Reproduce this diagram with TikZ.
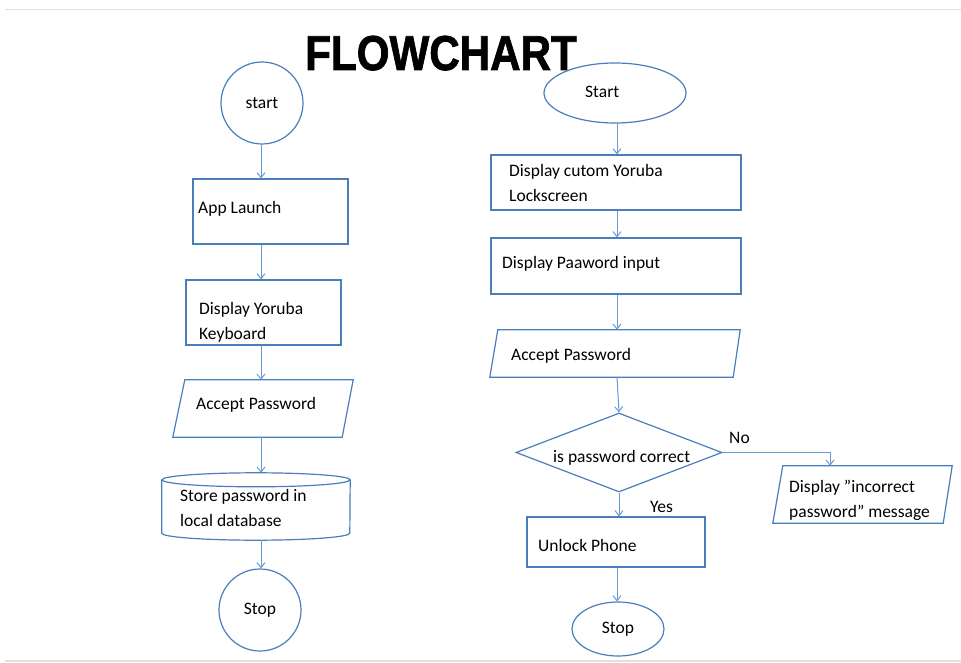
\documentclass[tikz,border=0pt]{standalone}
\usepackage{fontspec}
\setmainfont{Carlito}
\newfontfamily\titlefont[BoldFeatures={FakeBold=1.6}]{Liberation Sans}
\usetikzlibrary{positioning,shapes.geometric,arrows.meta}
\definecolor{shapeblue}{RGB}{74,126,187}
\definecolor{linkblue}{RGB}{100,155,212}

\begin{document}
\begin{tikzpicture}[x=1pt,y=-1pt,>={Straight Barb[length=5pt,width=8pt]},
    edgeline/.style={draw=shapeblue,line width=1.2pt},
    box/.style={edgeline,rectangle,inner sep=0pt},
    term/.style={edgeline,ellipse,inner sep=0pt,font=\fontsize{17.5}{25}\selectfont},
    iobox/.style={rectangle,inner sep=0pt},
    decis/.style={edgeline,diamond,inner sep=0pt},
    link/.style={->,draw=linkblue,line width=1pt},
    txt/.style={anchor=base west,inner sep=0pt,font=\fontsize{17.5}{25}\selectfont,align=left}]
%
   \useasboundingbox (0,0) rectangle (961,663);
   \draw[black!12,line width=1pt] (5,10) -- (961,10);
   \draw[black!12,line width=2pt] (5,661) -- (961,661);
   \node (title) [anchor=base] at (441,70) {\titlefont\bfseries\fontsize{49}{49}\selectfont\scalebox{0.86}[1]{FLOWCHART}};
%
   \coordinate (lcol) at (261,0);
   \node[term,minimum width=82,minimum height=82]   (L1) at (262,103) {start};
   \node[box,minimum width=155,minimum height=65]   (L2) at (270.5,211.5) {};
   \node[box,minimum width=155,minimum height=65]   (L3) at (263.5,312.5) {};
   \node[iobox,minimum width=180,minimum height=57] (L4) at (263,408.5) {};
   \draw[edgeline] ([xshift=12]L4.north west) -- (L4.north east) -- ([xshift=-11]L4.south east) -- (L4.south west) -- cycle;
   \node[iobox,minimum width=188,minimum height=67] (L5) at (256,506.5) {};
   \draw[edgeline] ([yshift=-7]L5.north) ellipse [x radius=94pt,y radius=7pt];
   \draw[edgeline] ([yshift=-7]L5.north west) -- ([yshift=7]L5.south west)
      arc[start angle=180,end angle=360,x radius=94pt,y radius=7pt] -- ([yshift=-7]L5.north east);
   \node[term,minimum width=82,minimum height=82]   (L6) at (260,610) {Stop};
   \node[txt] (L2t) at (198,214) {App Launch};
   \node[txt] (L3t) at (199,339) {Display Yoruba\\Keyboard};
   \node[txt] (L4t) at (196,409) {Accept Password};
   \node[txt] (L5t) at (180,526) {Store password in\\local database};
   \path (L1.south -| lcol) edge[link] (L2.north -| lcol);
   \path (L2.south -| lcol) edge[link] (L3.north -| lcol);
   \path (L3.south -| lcol) edge[link] (L4.north -| lcol);
   \path (L4.south -| lcol) edge[link] (L5.north -| lcol);
   \path (L5.south -| lcol) edge[link] (L6.north -| lcol);
%
   \coordinate (rcol) at (617,0);
   \node[term,minimum width=142,minimum height=60]  (R1) at (615,93) {};
   \node[box,minimum width=250,minimum height=55]   (R2) at (616,182.5) {};
   \node[box,minimum width=250,minimum height=56]   (R3) at (616,266) {};
   \node[iobox,minimum width=250,minimum height=47] (R4) at (615,353.5) {};
   \draw[edgeline] ([xshift=8]R4.north west) -- (R4.north east) -- ([xshift=-7]R4.south east) -- (R4.south west) -- cycle;
   \node[decis,minimum width=206,minimum height=79] (R5) at (619,452.5) {};
   \node[box,minimum width=178,minimum height=50]   (R6) at (616,542) {};
   \node[term,minimum width=92,minimum height=54]   (R7) at (618,629) {Stop};
   \node[iobox,minimum width=179,minimum height=57] (R8) at (862.5,494.5) {};
   \draw[edgeline] ([xshift=10]R8.north west) -- (R8.north east) -- ([xshift=-9]R8.south east) -- (R8.south west) -- cycle;
   \coordinate (R8in) at ([xshift=-32.5]R8.north);
   \node[txt] (R1t) at (585,98) {Start};
   \node[txt] (R2t) at (509,202) {Display cutom Yoruba\\Lockscreen};
   \node[txt] (R3t) at (502,268) {Display Paaword input};
   \node[txt] (R4t) at (511,360) {Accept Password};
   \node[txt] (R5t) at (553,462) {is password correct};
   \node[txt] (R6t) at (538,551) {Unlock Phone};
   \node[txt] (R8t) at (789,517) {Display ”incorrect\\password” message};
   \node[txt] (no)  at (729,443) {No};
   \node[txt] (yes) at (650,512) {Yes};
   \path (R1.south -| rcol) edge[link] (R2.north -| rcol);
   \path (R2.south -| rcol) edge[link] (R3.north -| rcol);
   \path (R3.south -| rcol) edge[link] (R4.north -| rcol);
   \path (R4.south -| rcol) edge[link] (R5.north);
   \path (R5.south) edge[link] (R6.north -| R5.south);
   \path (R6.south -| rcol) edge[link] (R7.north -| rcol);
   \draw[link] (R5.east) -| (R8in);
\end{tikzpicture}
\end{document}
